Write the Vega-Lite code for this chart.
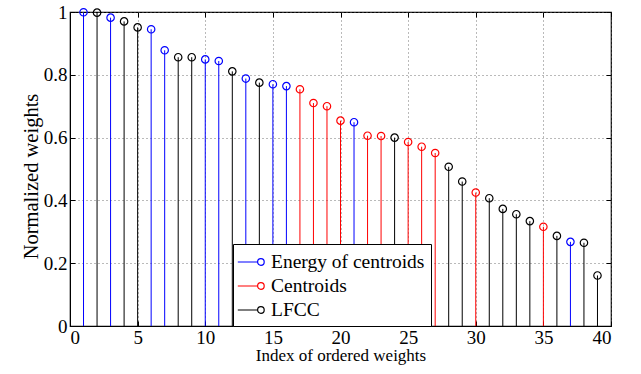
{
  "$schema": "https://vega.github.io/schema/vega-lite/v6.json",
  "autosize": "none",
  "width": 541,
  "height": 314,
  "padding": {"left": 70, "top": 12, "right": 30, "bottom": 48},
  "background": "white",
  "config": {
    "font": "Liberation Serif",
    "view": {"stroke": "black", "strokeWidth": 1.2},
    "axis": {
      "labelFont": "Liberation Serif",
      "titleFont": "Liberation Serif",
      "labelFontSize": 19,
      "titleFontSize": 17,
      "titleFontWeight": "normal",
      "labelColor": "black",
      "titleColor": "black",
      "domainColor": "black",
      "tickColor": "black",
      "gridColor": "#666",
      "gridDash": [1, 3],
      "gridOpacity": 0.9,
      "tickSize": -5,
      "labelPadding": 8
    }
  },
  "data": {
    "values": [
      {"i": 1, "w": 0.999, "type": "Energy of centroids"},
      {"i": 2, "w": 0.998, "type": "LFCC"},
      {"i": 3, "w": 0.982, "type": "Energy of centroids"},
      {"i": 4, "w": 0.970, "type": "LFCC"},
      {"i": 5, "w": 0.951, "type": "LFCC"},
      {"i": 6, "w": 0.945, "type": "Energy of centroids"},
      {"i": 7, "w": 0.878, "type": "Energy of centroids"},
      {"i": 8, "w": 0.856, "type": "LFCC"},
      {"i": 9, "w": 0.856, "type": "LFCC"},
      {"i": 10, "w": 0.849, "type": "Energy of centroids"},
      {"i": 11, "w": 0.844, "type": "Energy of centroids"},
      {"i": 12, "w": 0.811, "type": "LFCC"},
      {"i": 13, "w": 0.788, "type": "Energy of centroids"},
      {"i": 14, "w": 0.775, "type": "LFCC"},
      {"i": 15, "w": 0.770, "type": "Energy of centroids"},
      {"i": 16, "w": 0.764, "type": "Energy of centroids"},
      {"i": 17, "w": 0.754, "type": "Centroids"},
      {"i": 18, "w": 0.710, "type": "Centroids"},
      {"i": 19, "w": 0.700, "type": "Centroids"},
      {"i": 20, "w": 0.654, "type": "Centroids"},
      {"i": 21, "w": 0.649, "type": "Energy of centroids"},
      {"i": 22, "w": 0.606, "type": "Centroids"},
      {"i": 23, "w": 0.605, "type": "Centroids"},
      {"i": 24, "w": 0.600, "type": "LFCC"},
      {"i": 25, "w": 0.586, "type": "Centroids"},
      {"i": 26, "w": 0.571, "type": "Centroids"},
      {"i": 27, "w": 0.551, "type": "Centroids"},
      {"i": 28, "w": 0.507, "type": "LFCC"},
      {"i": 29, "w": 0.460, "type": "LFCC"},
      {"i": 30, "w": 0.425, "type": "Centroids"},
      {"i": 31, "w": 0.407, "type": "LFCC"},
      {"i": 32, "w": 0.373, "type": "LFCC"},
      {"i": 33, "w": 0.356, "type": "LFCC"},
      {"i": 34, "w": 0.334, "type": "LFCC"},
      {"i": 35, "w": 0.316, "type": "Centroids"},
      {"i": 36, "w": 0.287, "type": "LFCC"},
      {"i": 37, "w": 0.268, "type": "Energy of centroids"},
      {"i": 38, "w": 0.265, "type": "LFCC"},
      {"i": 39, "w": 0.161, "type": "LFCC"}
    ]
  },
  "layer": [
    {
      "mark": {"type": "rule", "strokeWidth": 1},
      "encoding": {
        "x": {"field": "i", "type": "quantitative", "scale": {"domain": [0, 40], "nice": false, "zero": false},
              "axis": {"title": "Index of ordered weights", "values": [0,5,10,15,20,25,30,35,40], "titlePadding": 0, "labelPadding": 7}},
        "y": {"field": "w", "type": "quantitative", "scale": {"domain": [0, 1], "nice": false},
              "axis": {"title": "Normalized weights", "titleFontSize": 20.5, "titleY": 164, "values": [0,0.2,0.4,0.6,0.8,1], "format": "~g", "titlePadding": 2}},
        "y2": {"datum": 0},
        "color": {"field": "type", "type": "nominal",
                  "scale": {"domain": ["Energy of centroids", "Centroids", "LFCC"], "range": ["#0000ff", "#ff0000", "#000000"]}}
      }
    },
    {
      "mark": {"type": "point", "opacity": 0},
      "encoding": {
        "x": {"field": "i", "type": "quantitative",
              "axis": {"orient": "top", "labels": false, "title": null, "grid": false, "domain": false, "values": [0,5,10,15,20,25,30,35,40]}},
        "y": {"field": "w", "type": "quantitative",
              "axis": {"orient": "right", "labels": false, "title": null, "grid": false, "domain": false, "values": [0,0.2,0.4,0.6,0.8,1]}}
      }
    },
    {
      "mark": {"type": "point", "filled": false, "size": 55, "strokeWidth": 1.2, "opacity": 1},
      "encoding": {
        "x": {"field": "i", "type": "quantitative", "axis": null},
        "y": {"field": "w", "type": "quantitative", "axis": null},
        "color": {"field": "type", "type": "nominal",
                  "legend": {
                    "title": null,
                    "orient": "none",
                    "legendX": 163,
                    "legendY": 232,
                    "direction": "vertical",
                    "fillColor": "white",
                    "strokeColor": "black",
                    "padding": 6,
                    "labelFont": "Liberation Serif",
                    "labelFontSize": 19.5,
                    "labelColor": "black",
                    "labelOffset": 8,
                    "labelLimit": 300,
                    "rowPadding": 2,
                    "symbolSize": 484,
                    "symbolStrokeWidth": 1.2,
                    "symbolType": "M-1.2,0 L0.6,0 M1.2,0 A0.3,0.3 0 1,1 0.6,0 A0.3,0.3 0 1,1 1.2,0"
                  }}
      }
    }
  ],
  "resolve": {"axis": {"x": "independent", "y": "independent"}}
}
